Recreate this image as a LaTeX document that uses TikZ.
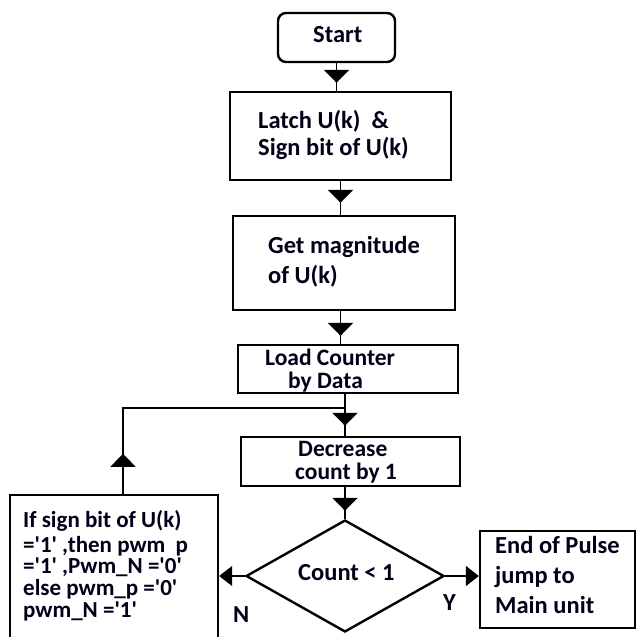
\documentclass[tikz,border=0pt]{standalone}
\usepackage{fontspec}
\setmainfont{Carlito}
\usetikzlibrary{arrows.meta,shapes.geometric,decorations.markings}
\newcommand{\sq}{\textquotesingle}
\begin{document}
\begin{tikzpicture}[x=1pt,y=-1pt,
  box/.style={draw=black,line width=2.4pt,inner sep=0pt,fill=white},
  rbox/.style={box,rounded corners=8pt},
  ln/.style={draw=black,line width=1.8pt},
  tx/.style={anchor=base west,inner sep=0pt,font=\fontsize{24.5}{27}\selectfont\bfseries,text=black!90!blue},
  ts/.style={tx,font=\fontsize{23.5}{25}\selectfont\bfseries},
  tl/.style={anchor=base west,inner sep=0pt,font=\fontsize{23}{25}\selectfont\bfseries,text=black!90!blue},
  midarrow/.style={postaction={decorate},decoration={markings,mark=at position #1 with {\arrow{Triangle[width=25pt,length=13pt]}}}}
]
\useasboundingbox (0,0) rectangle (637,637);
\fill[white] (0,0) rectangle (637,637);
% boxes
\node[rbox,minimum width=117pt,minimum height=49pt] (start) at (336.5,37.5) {};
\node[box,minimum width=221pt,minimum height=88pt] (latch) at (340.5,136) {};
\node[box,minimum width=222pt,minimum height=94pt] (mag) at (344,263) {};
\node[box,minimum width=220pt,minimum height=48pt] (load) at (348,369) {};
\node[box,minimum width=219pt,minimum height=49pt] (dec) at (350.5,461.5) {};
\node[box,shape=diamond,minimum width=198pt,minimum height=112pt] (dia) at (345,576) {};
\node[box,minimum width=208pt,minimum height=165pt] (left) at (114,577.5) {};
\node[box,minimum width=155pt,minimum height=97pt] (right) at (557.5,579.5) {};
% connectors
\draw[ln,midarrow=-8pt] (start.south) -- (start.south |- latch.north);
\draw[ln,midarrow=-12pt] (latch.south) -- (latch.south |- mag.north);
\draw[ln,midarrow=-8pt] (latch.south |- mag.south) -- (latch.south |- load.north);
\draw[ln,midarrow=-10pt] (dia.north |- load.south) -- (dia.north |- dec.north);
\draw[ln,midarrow=-8pt] (dia.north |- dec.south) -- (dia.north);
\coordinate (lp) at (123,408);
\draw[ln,midarrow=40pt] (left.north -| lp) -- (lp) -- (lp -| dia.north);
\draw[ln,-{Triangle[width=20pt,length=13pt]}] (dia.west) -- (left.east |- dia.west);
\draw[ln,-{Triangle[width=20pt,length=13pt]}] (dia.east) -- (right.west |- dia.east);
% texts
\node[tx] (t0) at (313,42) {Start};
\node[tx] (t1) at (258,128) {Latch U(k)\ \ \&};
\node[tx] (t2) at (258,155) {Sign bit of U(k)};
\node[tx] (t3) at (268,253) {Get magnitude};
\node[tx] (t4) at (268,283) {of U(k)};
\node[ts] (t5) at (265,365) {Load Counter};
\node[ts] (t6) at (288,388.5) {by Data};
\node[ts] (t7) at (298,456) {Decrease};
\node[ts] (t8) at (295,479.5) {count by 1};
\node[tx] (t9) at (298,580) {Count < 1};
\node[tx] (t10) at (495,553) {End of Pulse};
\node[tx] (t11) at (495,583) {jump to};
\node[tx] (t12) at (495,613) {Main unit};
\node[tl] (l1) at (23,527) {If sign bit of U(k)};
\node[tl] (l2) at (23,552) {=\sq1\sq\ ,then pwm\ \ p};
\node[tl] (l3) at (23,573) {=\sq1\sq\ ,Pwm\_N =\sq0\sq};
\node[tl] (l4) at (23,595) {else pwm\_p =\sq0\sq};
\node[tl] (l5) at (23,617) {pwm\_N =\sq1\sq};
\node[tx] (n) at (233,622) {N};
\node[tx] (y) at (443,610) {Y};
\end{tikzpicture}
\end{document}
